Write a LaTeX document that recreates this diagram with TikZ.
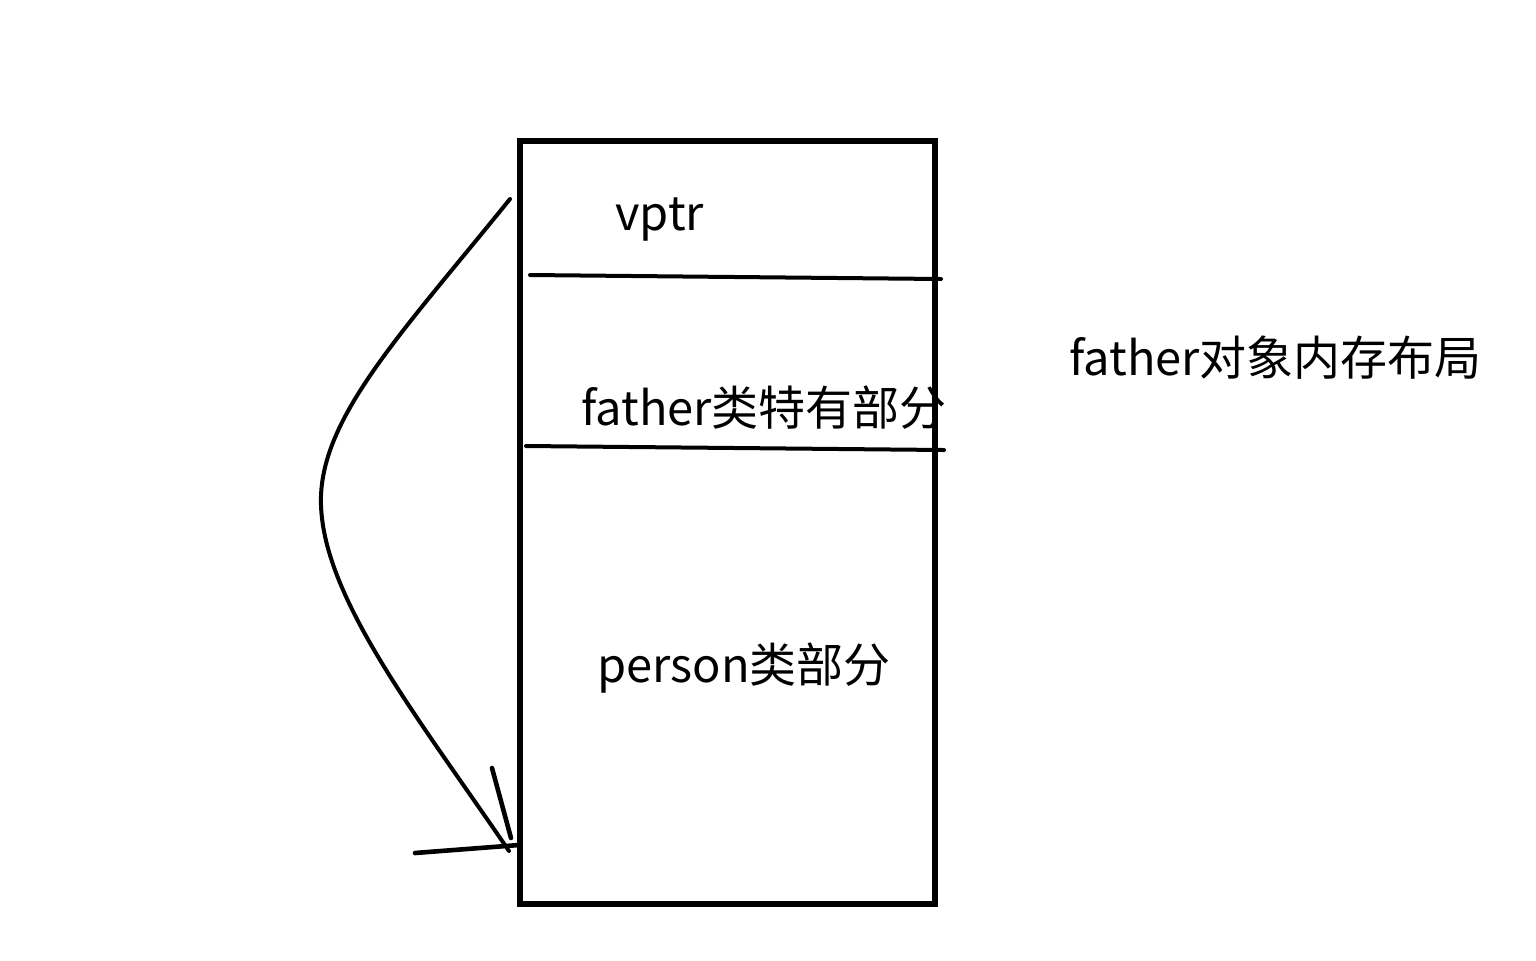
\documentclass[tikz,border=0pt]{standalone}
\usepackage{fontspec}
\setmainfont{Noto Sans CJK SC}
\begin{document}
\begin{tikzpicture}[x=0.5pt,y=-0.5pt,
  stroke/.style={line width=2pt,line cap=round},
  label/.style={anchor=base west,inner sep=0pt,font=\fontsize{23.5pt}{28pt}\selectfont}]
\useasboundingbox (0,0) rectangle (1536,960);
\node[draw,line width=2.6pt,minimum width=207.5pt,minimum height=381.5pt,inner sep=0pt] (box) at (727.5,522.5) {};
\draw[stroke] (530,275) -- (735,277) -- (941,279);
\draw[stroke] (526,446) -- (735,448) -- (944,450);
\node[label] (vptr) at (615,230) {vptr};
\node[label] (fpart) at (581,425) {father类特有部分};
\node[label] (ppart) at (597,682) {person类部分};
\node[label] (title) at (1069,375) {father对象内存布局};
\coordinate (s) at (510,199);
\coordinate (m) at (321,505);
\coordinate (e) at (509,851);
\coordinate (h1) at (492,768);
\coordinate (h2) at (415,853);
\coordinate (h1e) at (511,838);
\coordinate (h2e) at (519,845);
\draw[stroke] (s) .. controls (400,335) and (318,420) .. (m)
  .. controls (324,600) and (420,720) .. (e);
\draw[stroke,line width=2.3pt] (h1) -- (h1e);
\draw[stroke,line width=2.3pt] (h2) -- (h2e);
\end{tikzpicture}
\end{document}
